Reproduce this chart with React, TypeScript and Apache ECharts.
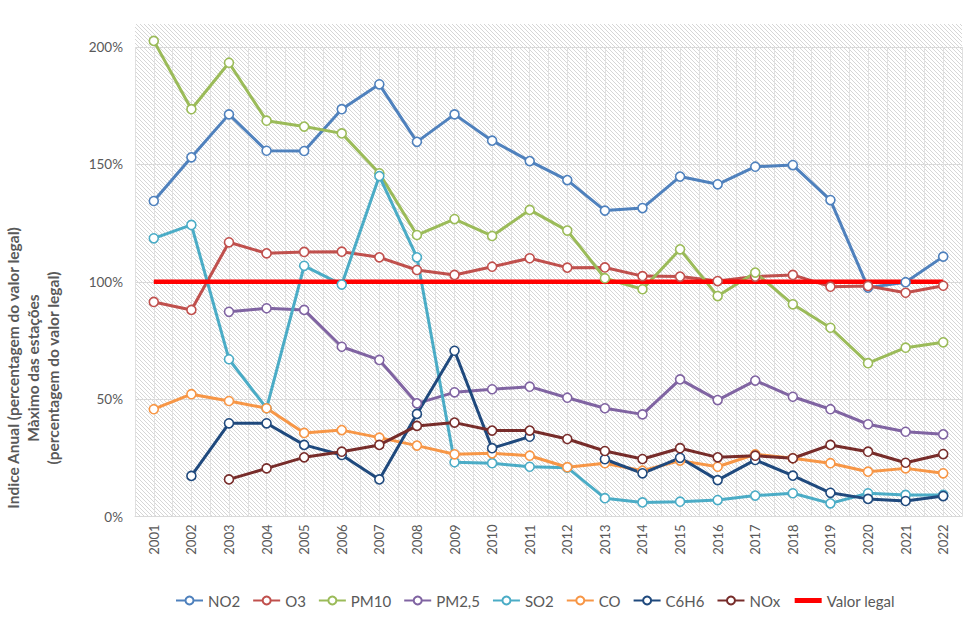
import React, { useEffect, useRef } from "react";
import * as echarts from "echarts";

const years = [
  "2001","2002","2003","2004","2005","2006","2007","2008","2009","2010","2011",
  "2012","2013","2014","2015","2016","2017","2018","2019","2020","2021","2022",
];
const halfSlots = Array.from({ length: 44 }, (_, i) => String(i));

const no2 = [134.4,153.0,171.3,155.8,155.7,173.5,184.1,159.6,171.3,160.1,151.4,143.3,130.3,131.4,144.8,141.5,149.0,149.7,134.8,97.5,99.8,110.7];
const o3 = [91.4,88.0,116.8,112.1,112.7,112.8,110.4,105.0,102.9,106.4,110.0,106.0,106.1,102.4,102.2,100.3,102.2,102.9,97.9,98.2,95.3,98.3];
const pm10 = [202.6,173.5,193.3,168.6,166.1,163.2,146.2,119.9,126.7,119.5,130.6,121.8,101.5,96.8,113.8,93.9,103.9,90.4,80.4,65.3,71.9,74.2];
const pm25 = [null,null,87.2,88.7,88.0,72.3,66.7,48.2,52.9,54.2,55.3,50.6,46.1,43.5,58.4,49.6,57.9,51.0,45.7,39.3,36.1,35.0];
const so2 = [118.5,124.2,67.0,46.1,106.8,98.8,145.0,110.4,23.1,22.7,21.2,20.8,7.8,6.0,6.3,7.0,8.9,9.9,5.6,9.9,9.2,9.2];
const co = [45.7,52.1,49.2,46.1,35.6,36.8,33.6,30.2,26.5,26.9,25.9,21.0,22.7,19.5,23.8,21.2,26.5,24.8,22.7,19.1,20.5,18.4];
const c6h6 = [null,17.3,39.7,39.7,30.5,26.2,15.8,43.7,70.6,29.1,34.0,null,24.4,18.4,25.0,15.5,24.1,17.4,10.1,7.5,6.6,8.7];
const nox = [null,null,15.8,20.5,25.2,27.6,30.5,38.6,40.0,36.6,36.6,33.0,27.9,24.5,29.1,25.2,25.9,24.8,30.5,27.6,22.9,26.6];
const valorLegal = [100,100,100,100,100,100,100,100,100,100,100,100,100,100,100,100,100,100,100,100,100,100];

const seriesNames = ["NO2","O3","PM10","PM2,5","SO2","CO","C6H6","NOx"];
const seriesData = [no2, o3, pm10, pm25, so2, co, c6h6, nox];
const seriesColors = ["#4F81BD","#C0504D","#9BBB59","#8064A2","#4BACC6","#F79646","#1F497D","#772C2A"];

const yTitleLines = [
  "Indice Anual (percentagem do valor legal)",
  "Màximo das estações",
  "(percentagem do valor legal)",
];

function makeHatch(): HTMLCanvasElement {
  const c = document.createElement("canvas");
  c.width = 4;
  c.height = 4;
  const ctx = c.getContext("2d")!;
  ctx.fillStyle = "#ffffff";
  ctx.fillRect(0, 0, 4, 4);
  ctx.fillStyle = "#d6d6d6";
  for (let i = 0; i < 4; i++) ctx.fillRect(i, i, 1, 1);
  return c;
}

export default function App() {
  const ref = useRef<HTMLDivElement>(null);
  useEffect(() => {
    if (!ref.current) return;
    const chart = echarts.init(ref.current, undefined, { renderer: "svg" });
    const font = "Lato, 'Open Sans', sans-serif";
    const gridLeft = 135;
    const gridRight = 10;
    const gridTop = 47;
    const gridBottom = 103.5;
    const series: any[] = seriesNames.map((name, i) => ({
      name,
      type: "line",
      data: seriesData[i],
      xAxisIndex: 0,
      connectNulls: false,
      clip: false,
      symbol: "circle",
      symbolSize: 9,
      showSymbol: true,
      lineStyle: { color: seriesColors[i], width: 3 },
      itemStyle: { color: "#ffffff", borderColor: seriesColors[i], borderWidth: 1.6 },
      emphasis: { disabled: true },
    }));
    series.push({
      name: "Valor legal",
      type: "line",
      data: valorLegal,
      xAxisIndex: 0,
      symbol: "none",
      lineStyle: { color: "#FF0000", width: 4.5 },
      itemStyle: { color: "#FF0000" },
      emphasis: { disabled: true },
    });

    chart.setOption({
      animation: false,
      textStyle: { fontFamily: font },
      grid: { left: gridLeft, right: gridRight, top: gridTop, bottom: gridBottom },
      graphic: [
        {
          type: "rect",
          z: -10,
          shape: { x: gridLeft, y: 24, width: 972 - gridLeft - gridRight, height: 620 - gridBottom - 24 },
          style: { fill: { image: makeHatch(), repeat: "repeat" } as any },
          silent: true,
        },
        ...yTitleLines.map((t, i) => ({
          type: "text",
          x: 13 + i * 20,
          y: 368,
          rotation: Math.PI / 2,
          style: {
            text: t,
            fill: "#595959",
            font: `bold 15.5px ${font}`,
            align: "center",
            verticalAlign: "middle",
          },
        })),
      ],
      legend: {
        top: 588,
        left: 170,
        itemWidth: 27,
        itemHeight: 10,
        itemGap: 12,
        textStyle: { color: "#595959", fontSize: 15, fontFamily: font },
        data: [
          ...seriesNames,
          { name: "Valor legal", itemStyle: { opacity: 0 }, lineStyle: { width: 5 } },
        ],
      },
      xAxis: [
        {
          type: "category",
          data: years,
          boundaryGap: true,
          axisLine: { show: true, lineStyle: { color: "#d9d9d9", width: 1 } },
          axisTick: { show: false },
          splitLine: { show: false },
          axisLabel: {
            rotate: 90,
            color: "#595959",
            fontSize: 13,
            margin: 8,
            interval: 0,
            fontFamily: font,
          },
        },
        {
          type: "category",
          data: halfSlots,
          boundaryGap: true,
          show: true,
          position: "bottom",
          axisLine: { show: false },
          axisTick: { show: false },
          axisLabel: { show: false },
          splitLine: { show: true, interval: 0, lineStyle: { color: "#e0e0e0", width: 1 } },
        },
      ],
      yAxis: {
        type: "value",
        min: 0,
        max: 200,
        interval: 50,
        axisLine: { show: false },
        axisTick: { show: false },
        axisLabel: {
          formatter: "{value}%",
          color: "#595959",
          fontSize: 13.5,
          margin: 12,
          fontFamily: font,
        },
        splitLine: { show: true, lineStyle: { color: "#d9d9d9", width: 1 } },
      },
      series,
    });
    return () => chart.dispose();
  }, []);
  return (
    <div
      ref={ref}
      style={{ position: "absolute", left: 0, top: 0, width: 972, height: 620 }}
    />
  );
}
